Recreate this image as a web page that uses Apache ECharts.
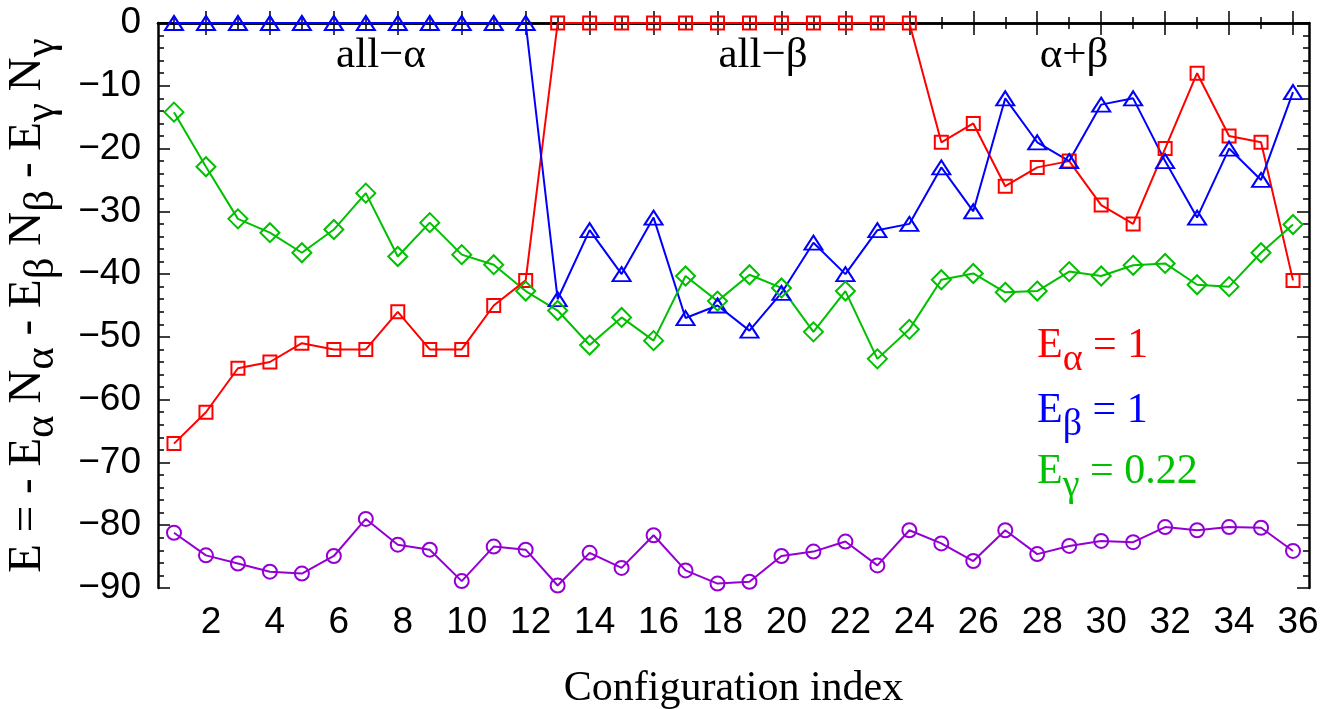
<!DOCTYPE html>
<html>
<head>
<meta charset="utf-8">
<script src="https://cdn.jsdelivr.net/npm/echarts@6/dist/echarts.min.js"></script>
<style>
html,body{margin:0;padding:0;background:#fff;}
#chart{width:1333px;height:709px;}
</style>
</head>
<body>
<div id="chart"></div>
<script>
const xIndex = [1,2,3,4,5,6,7,8,9,10,11,12,13,14,15,16,17,18,19,20,21,22,23,24,25,26,27,28,29,30,31,32,33,34,35,36];
const eAlpha = [-67,-62,-55,-54,-51,-52,-52,-46,-52,-52,-45,-41,0,0,0,0,0,0,0,0,0,0,0,0,-19,-16,-26,-23,-22,-29,-32,-20,-8,-18,-19,-41];
const eBeta  = [0,0,0,0,0,0,0,0,0,0,0,0,-44,-33,-40,-31,-47,-45,-49,-43,-35,-40,-33,-32,-23,-30,-12,-19,-22,-13,-12,-22,-31,-20,-25,-11];
const eGamma = [-14.2,-22.9,-31.2,-33.4,-36.6,-32.9,-27.1,-37.2,-31.8,-36.9,-38.5,-42.7,-45.8,-51.3,-46.9,-50.6,-40.3,-44.3,-40.1,-42.2,-49.2,-42.7,-53.5,-48.8,-40.9,-39.9,-42.9,-42.7,-39.6,-40.3,-38.6,-38.3,-41.7,-42.0,-36.6,-32.1];
const eTotal = [-81.2,-84.8,-86.1,-87.4,-87.7,-84.9,-79.0,-83.1,-83.9,-88.9,-83.4,-83.9,-89.6,-84.4,-86.8,-81.6,-87.2,-89.3,-89.0,-84.9,-84.2,-82.6,-86.4,-80.8,-82.9,-85.7,-80.8,-84.6,-83.3,-82.5,-82.7,-80.3,-80.8,-80.3,-80.4,-84.1];
const xMajorTicks = [2,4,6,8,10,12,14,16,18,20,22,24,26,28,30,32,34,36];
const xMinorTicks = [1,3,5,7,9,11,13,15,17,19,21,23,25,27,29,31,33,35];
const yTickLabels = ['−90','−80','−70','−60','−50','−40','−30','−20','−10','0'];
const yTickValues = [-90,-80,-70,-60,-50,-40,-30,-20,-10,0];

const RED = '#ff0000', BLUE = '#0000ff', GREEN = '#00c000', PURPLE = '#9400d3';
const SERIF = 'Liberation Serif';
const SANS = 'Liberation Sans';

function pairs(arr){ return xIndex.map((x,i)=>[x, arr[i]]); }
function mkSeries(name, arr, color, symbol, size){
  return {
    name, type:'line', data: pairs(arr), clip:false,
    symbol, symbolSize:size, showAllSymbol:true,
    lineStyle:{color, width:2},
    itemStyle:{color:'rgba(0,0,0,0)', borderColor:color, borderWidth:2},
    emphasis:{disabled:true}, animation:false, z:3
  };
}
// main text top-aligned; subscript bottom-aligned inside a taller line
function subRich(color, F, f, Ls){
  return {
    m:{fontFamily:SERIF, fontSize:F, lineHeight:F, verticalAlign:'top', color:color, fill:color},
    s:{fontFamily:SERIF, fontSize:f, lineHeight:Ls, verticalAlign:'bottom', color:color, fill:color}
  };
}

const axisLineStyle = {color:'#000', width:2.5};
const chart = echarts.init(document.getElementById('chart'), null, {renderer:'canvas'});

const xBase = {
  type:'value', min:0.5, max:36.5, splitLine:{show:false}
};
const option = {
  animation:false,
  backgroundColor:'#fff',
  grid:{left:158, right:24, top:23, bottom:121, outerBoundsMode:'none', containLabel:false},
  xAxis:[
    Object.assign({}, xBase, {position:'bottom',
      axisLine:{show:true, lineStyle:axisLineStyle},
      axisTick:{show:true, inside:true, length:12, customValues:xMajorTicks, lineStyle:{color:'#000', width:1.5}},
      axisLabel:{show:true, customValues:xMajorTicks, fontFamily:SANS, fontSize:37, color:'#000', margin:16, padding:[0,0,0,10]},
      name:'Configuration index', nameLocation:'middle', nameGap:80,
      nameTextStyle:{fontFamily:SERIF, fontSize:42, color:'#000'}
    }),
    Object.assign({}, xBase, {position:'bottom',
      axisLine:{show:false},
      axisTick:{show:true, inside:true, length:6, customValues:xMinorTicks, lineStyle:{color:'#000', width:1.5}},
      axisLabel:{show:false}
    }),
    Object.assign({}, xBase, {position:'top',
      axisLine:{show:true, lineStyle:axisLineStyle},
      axisTick:{show:true, inside:true, length:12, customValues:xMajorTicks, lineStyle:{color:'#000', width:1.5}},
      axisLabel:{show:false}
    }),
    Object.assign({}, xBase, {position:'top',
      axisLine:{show:false},
      axisTick:{show:true, inside:true, length:6, customValues:xMinorTicks, lineStyle:{color:'#000', width:1.5}},
      axisLabel:{show:false}
    })
  ],
  yAxis:[
    {type:'value', min:-90, max:0, interval:10, position:'left',
      splitLine:{show:false},
      axisLine:{show:true, lineStyle:axisLineStyle},
      axisTick:{show:true, inside:true, length:12, lineStyle:{color:'#000', width:1.5}},
      minorTick:{show:true, splitNumber:5, length:6, lineStyle:{color:'#000', width:1.5}},
      axisLabel:{show:true, fontFamily:SANS, fontSize:37, color:'#000', margin:17,
        formatter:(v)=>{ const k = yTickValues.indexOf(v); return k>=0 ? yTickLabels[k] : ''; }},
      name:'{m|E = - E}{s|α}{m| N}{s|α}{m| - E}{s|β}{m| N}{s|β}{m| - E}{s|γ}{m| N}{s|γ}',
      nameLocation:'middle', nameRotate:90, nameGap:95, nameMoveOverlap:false,
      nameTextStyle:{fontFamily:SERIF, fontSize:47, color:'#000', rich:subRich('#000', 47, 43, 59)}
    },
    {type:'value', min:-90, max:0, interval:10, position:'right',
      splitLine:{show:false},
      axisLine:{show:true, lineStyle:axisLineStyle},
      axisTick:{show:true, inside:true, length:12, lineStyle:{color:'#000', width:1.5}},
      minorTick:{show:true, splitNumber:5, length:6, lineStyle:{color:'#000', width:1.5}},
      axisLabel:{show:false}
    }
  ],
  series:[
    mkSeries('E_alpha', eAlpha, RED, 'rect', 13),
    mkSeries('E_beta', eBeta, BLUE, 'triangle', [18,14]),
    mkSeries('E_gamma', eGamma, GREEN, 'diamond', 19),
    mkSeries('E_total', eTotal, PURPLE, 'circle', 14)
  ],
  graphic:[
    {type:'text', x:381, y:56, style:{text:'all−α', font:'43px "Liberation Serif"', fill:'#000', align:'center', verticalAlign:'middle'}},
    {type:'text', x:763, y:56, style:{text:'all−β', font:'43px "Liberation Serif"', fill:'#000', align:'center', verticalAlign:'middle'}},
    {type:'text', x:1074, y:56, style:{text:'α+β', font:'43px "Liberation Serif"', fill:'#000', align:'center', verticalAlign:'middle'}},
    {type:'text', x:1037, y:325, style:{text:'{m|E}{s|α}{m| = 1}', align:'left', verticalAlign:'top', rich:subRich(RED, 42, 38, 54)}},
    {type:'text', x:1037, y:390, style:{text:'{m|E}{s|β}{m| = 1}', align:'left', verticalAlign:'top', rich:subRich(BLUE, 42, 38, 54)}},
    {type:'text', x:1037, y:451, style:{text:'{m|E}{s|γ}{m| = 0.22}', align:'left', verticalAlign:'top', rich:subRich(GREEN, 42, 38, 54)}}
  ]
};
chart.setOption(option);
</script>
</body>
</html>
